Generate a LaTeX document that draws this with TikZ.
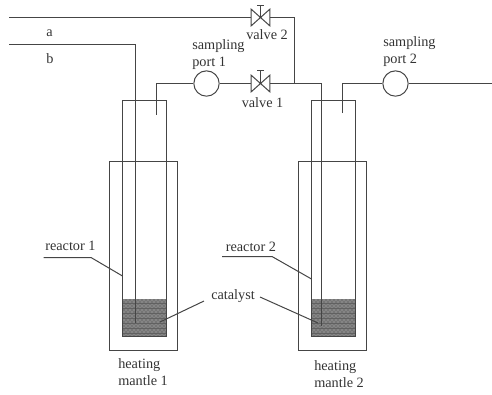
\documentclass[tikz,border=0pt]{standalone}
\usepackage{fontspec}
\setmainfont{Liberation Serif}
\usetikzlibrary{patterns}
\definecolor{ink}{gray}{0.27}
\definecolor{txt}{gray}{0.2}
\tikzset{
  pipe/.style={draw=ink,line width=0.75pt},
  port/.style={circle,draw=ink,line width=0.75pt,fill=white,minimum size=19pt,inner sep=0pt},
  valvebox/.style={rectangle,inner sep=0pt,minimum width=13.5pt,minimum height=12pt},
  lab/.style={font=\fontsize{10.7}{12}\selectfont,text=txt,inner sep=0pt,anchor=base west,align=left}
}
\begin{document}
\begin{tikzpicture}[x=0.75pt,y=-0.75pt]
\useasboundingbox (0,0) rectangle (492,394);
% mantles
\draw[pipe] (109.5,161.5) rectangle (177.5,350.5);
\draw[pipe] (298.5,161.5) rectangle (366.5,350.5);
% catalyst beds
\foreach \xa/\xb in {122.5/166.5,311.5/355.5}{
  \fill[black!48] (\xa,299) rectangle (\xb,336.5);
  \fill[pattern=crosshatch dots,pattern color=black!75] (\xa,299) rectangle (\xb,336.5);
  \foreach \yy in {303.5,308.5,313.5,318.5,323.5,328.5,333.5}
    \draw[black!62,line width=0.4pt] (\xa,\yy) -- (\xb,\yy);
}
% reactors
\draw[pipe] (122.5,336.5) -- (122.5,100.5) -- (166.5,100.5) -- (166.5,336.5) -- cycle;
\draw[pipe] (311.5,336.5) -- (311.5,100.5) -- (355.5,100.5) -- (355.5,336.5) -- cycle;
% named points
\coordinate (topL) at (9,17.5);
\coordinate (topR) at (294.5,17.5);
\coordinate (junc) at (294.5,83.5);
\coordinate (bL) at (9,44.5);
\coordinate (bC) at (135.5,44.5);
\coordinate (bEnd) at (135.5,323);
\coordinate (o1End) at (156.5,114.5);
\coordinate (o1C) at (156.5,83.5);
\coordinate (i2C) at (321.5,83.5);
\coordinate (i2End) at (321.5,326);
\coordinate (o2End) at (342.5,113);
\coordinate (o2C) at (342.5,83.5);
\coordinate (outEnd) at (492,83.5);
\node[port] (sp1) at (206.5,83.5) {};
\node[port] (sp2) at (395.5,83.5) {};
\node[valvebox] (v2) at (260.5,17.5) {};
\node[valvebox] (v1) at (260.5,83.5) {};
\coordinate (v2stem) at (260.5,5.5);
\coordinate (v1stem) at (260.5,70.5);
% pipes
\draw[pipe] (topL) -- (v2.west);
\draw[pipe] (v2.east) -- (topR) -- (junc);
\draw[pipe] (bL) -- (bC) -- (bEnd);
\draw[pipe] (o1End) -- (o1C) -- (sp1);
\draw[pipe] (sp1) -- (v1.west);
\draw[pipe] (v1.east) -- (i2C) -- (i2End);
\draw[pipe] (o2End) -- (o2C) -- (sp2);
\draw[pipe] (sp2) -- (outEnd);
% valves
\foreach \v in {v1,v2}{
  \draw[pipe,line join=miter] (\v.north west) -- (\v.south east) -- (\v.north east) -- (\v.south west) -- cycle;
}
\draw[pipe] (v2.center) -- (v2stem) ++(-3.5,0) -- ++(7,0);
\draw[pipe] (v1.center) -- (v1stem) ++(-3.5,0) -- ++(7,0);
% leaders
\coordinate (r1a) at (43.5,257.5); \coordinate (r1b) at (91,257.5); \coordinate (r1c) at (122.5,276);
\coordinate (r2a) at (222,256.5); \coordinate (r2b) at (272,256.5); \coordinate (r2c) at (311.5,279);
\coordinate (c1a) at (204,301); \coordinate (c1b) at (160,322);
\coordinate (c2a) at (260,297); \coordinate (c2b) at (318,323);
\draw[pipe] (r1a) -- (r1b) -- (r1c);
\draw[pipe] (r2a) -- (r2b) -- (r2c);
\draw[pipe] (c1a) -- (c1b);
\draw[pipe] (c2a) -- (c2b);
% labels
\node[lab] (la) at (46,36) {a};
\node[lab] (lb) at (46,63) {b};
\node[lab] (ls1a) at (192,49.5) {sampling};
\node[lab] (ls1b) at (192,66.5) {port 1};
\node[lab] (ls2a) at (383,46.5) {sampling};
\node[lab] (ls2b) at (383,63.5) {port 2};
\node[lab] (lv2) at (246,39.5) {valve 2};
\node[lab] (lv1) at (241.5,107) {valve 1};
\node[lab] (lr1) at (45,250) {reactor 1};
\node[lab] (lr2) at (225.5,251) {reactor 2};
\node[lab] (lc) at (211,299) {catalyst};
\node[lab] (lh1a) at (118,368) {heating};
\node[lab] (lh1b) at (118,385) {mantle 1};
\node[lab] (lh2a) at (314,370) {heating};
\node[lab] (lh2b) at (314,387) {mantle 2};
\end{tikzpicture}
\end{document}
